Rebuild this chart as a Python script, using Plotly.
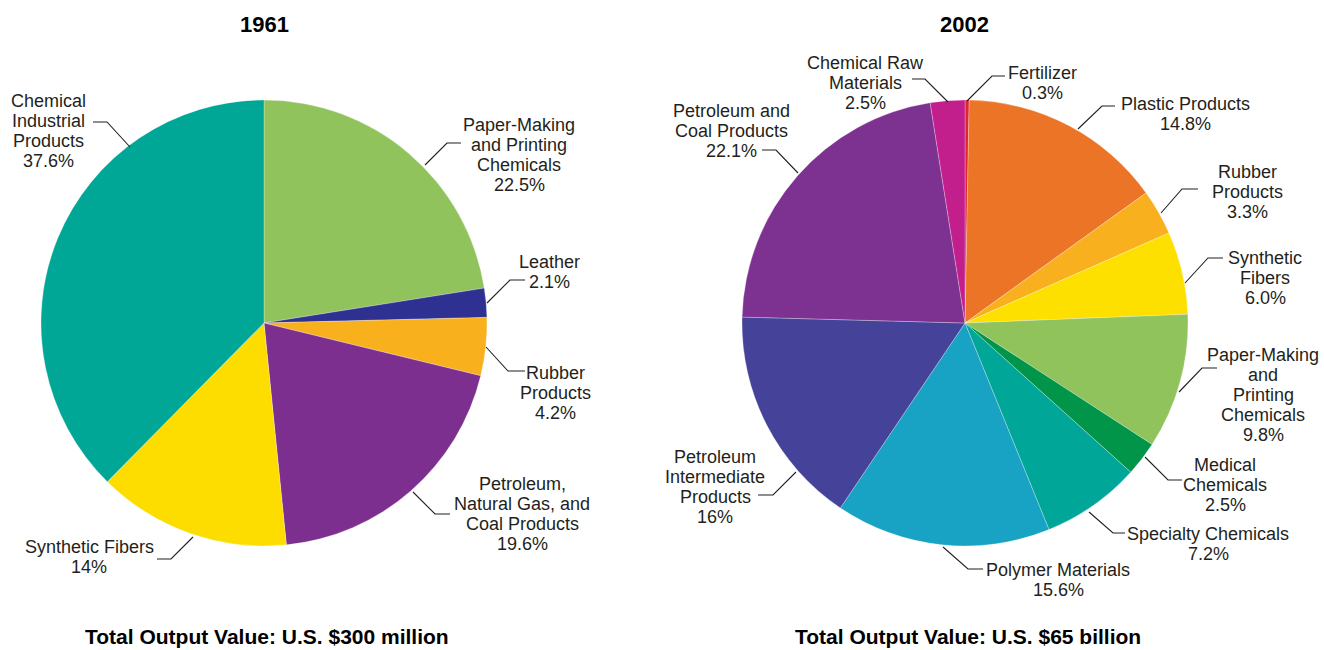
import plotly.graph_objects as go

W, H = 1324, 650

# ---- data ----
cats_1961 = ["Paper-Making and Printing Chemicals", "Leather", "Rubber Products",
             "Petroleum, Natural Gas, and Coal Products", "Synthetic Fibers",
             "Chemical Industrial Products"]
vals_1961 = [22.5, 2.1, 4.2, 19.6, 14.0, 37.6]
cols_1961 = ["#91c35d", "#2e3192", "#f8b01c", "#7d2f8f", "#fddc00", "#00a797"]

cats_2002 = ["Fertilizer", "Plastic Products", "Rubber Products", "Synthetic Fibers",
             "Paper-Making and Printing Chemicals", "Medical Chemicals",
             "Specialty Chemicals", "Polymer Materials",
             "Petroleum Intermediate Products", "Petroleum and Coal Products",
             "Chemical Raw Materials"]
vals_2002 = [0.3, 14.8, 3.3, 6.0, 9.8, 2.5, 7.2, 15.6, 16.0, 22.1, 2.5]
cols_2002 = ["#e2262b", "#ec7427", "#f8b01e", "#fde000", "#91c35d", "#009548",
             "#00a798", "#18a3c4", "#45429a", "#7d3190", "#c21f8d"]

titles = ["1961", "2002"]
totals = ["Total Output Value: U.S. $300 million", "Total Output Value: U.S. $65 billion"]

# ---- label layout (pixel positions) ----
labels = [
    (["Chemical", "Industrial", "Products", "37.6%"], 49, 101, [(93, 122), (107, 122), (130, 147)]),
    (["Paper-Making", "and Printing", "Chemicals", "22.5%"], 519, 125, [(461, 143), (447, 143), (425, 165)]),
    (["Leather", "2.1%"], 549, 262, [(525, 280), (510, 280), (487, 303)]),
    (["Rubber", "Products", "4.2%"], 555, 373, [(525, 371), (508, 371), (486, 347)]),
    (["Petroleum,", "Natural Gas, and", "Coal Products", "19.6%"], 522, 484, [(450, 514), (435, 514), (413, 492)]),
    (["Synthetic Fibers", "14%"], 89, 547, [(157, 559), (171, 559), (193, 537)]),
    (["Chemical Raw", "Materials", "2.5%"], 865, 63, [(912, 79), (925, 79), (948, 102)]),
    (["Fertilizer", "0.3%"], 1042, 73, [(1005, 76), (992, 76), (967, 101)]),
    (["Plastic Products", "14.8%"], 1185, 104, [(1115, 106), (1102, 106), (1078, 129)]),
    (["Rubber", "Products", "3.3%"], 1247, 172, [(1198, 189), (1182, 189), (1161, 213)]),
    (["Synthetic", "Fibers", "6.0%"], 1265, 258, [(1223, 258), (1208, 258), (1185, 283)]),
    (["Paper-Making", "and", "Printing", "Chemicals", "9.8%"], 1263, 355, [(1217, 368), (1202, 368), (1179, 392)]),
    (["Medical", "Chemicals", "2.5%"], 1225, 465, [(1182, 480), (1168, 480), (1145, 457)]),
    (["Specialty Chemicals", "7.2%"], 1208, 534, [(1125, 533), (1113, 533), (1089, 512)]),
    (["Polymer Materials", "15.6%"], 1058, 570, [(983, 569), (968, 569), (943, 547)]),
    (["Petroleum", "Intermediate", "Products", "16%"], 715, 457, [(758, 495), (773, 495), (796, 472)]),
    (["Petroleum and", "Coal Products", "22.1%"], 732, 111, [(762, 150), (776, 150), (798, 173)]),
]

FONT = "Liberation Sans, Arial, Helvetica, sans-serif"
TXT = "#231f20"


def px(x):
    return x / W


def py(y):
    return 1 - y / H


R = 223
centers = [(264, 323), (965, 323)]

fig = go.Figure()
for (cx, cy), cats, vals, cols in [(centers[0], cats_1961, vals_1961, cols_1961),
                                   (centers[1], cats_2002, vals_2002, cols_2002)]:
    fig.add_trace(go.Pie(
        labels=cats, values=vals, sort=False, direction="clockwise", rotation=0,
        marker=dict(colors=cols, line=dict(color="rgba(255,255,255,0.45)", width=0.6)),
        textinfo="none", hoverinfo="label+value", showlegend=False,
        domain=dict(x=[px(cx - R), px(cx + R)], y=[py(cy + R), py(cy - R)]),
    ))

annotations = []
shapes = []
for lines, cx, y0, pts in labels:
    for i, line in enumerate(lines):
        annotations.append(dict(
            x=px(cx), y=py(y0 + 20 * i), xref="paper", yref="paper",
            text=line, showarrow=False, xanchor="center", yanchor="middle",
            font=dict(family=FONT, size=18, color=TXT)))
    path = "M " + " L ".join(f"{px(x)},{py(y)}" for x, y in pts)
    shapes.append(dict(type="path", path=path, xref="paper", yref="paper",
                       line=dict(color=TXT, width=1.1)))

for (cx, cy), t, tot in zip(centers, titles, totals):
    annotations.append(dict(x=px(cx), y=py(25), xref="paper", yref="paper", text=f"<b>{t}</b>",
                            showarrow=False, xanchor="center", yanchor="middle",
                            font=dict(family=FONT, size=22, color="#000000")))
    annotations.append(dict(x=px(cx + 3), y=py(636), xref="paper", yref="paper", text=f"<b>{tot}</b>",
                            showarrow=False, xanchor="center", yanchor="middle",
                            font=dict(family=FONT, size=21, color="#000000")))

fig.update_layout(
    width=W, height=H, margin=dict(l=0, r=0, t=0, b=0),
    paper_bgcolor="white", plot_bgcolor="white",
    annotations=annotations, shapes=shapes,
)

fig.write_html("out.html")
